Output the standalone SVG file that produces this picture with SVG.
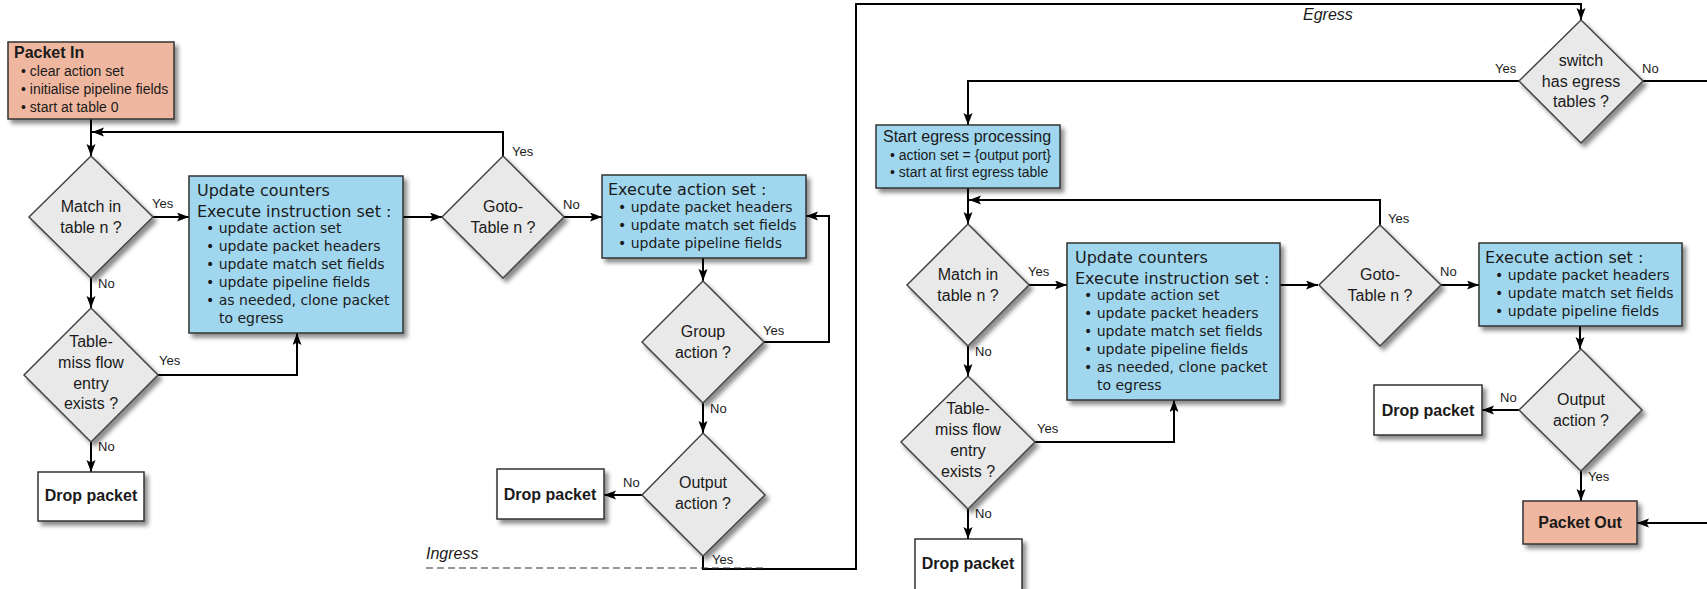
<svg xmlns="http://www.w3.org/2000/svg" width="1707" height="589" viewBox="0 0 1707 589">
  <defs>
    <filter id="shadow" x="-10%" y="-10%" width="130%" height="130%">
      <feDropShadow dx="3.5" dy="4" stdDeviation="2" flood-color="#000" flood-opacity="0.45"/>
    </filter>
    <marker id="arrow" markerUnits="userSpaceOnUse" markerWidth="13" markerHeight="10" refX="12" refY="4.5" orient="auto">
      <path d="M0,0 L12,4.5 L0,9 L2.5,4.5 z" fill="#000"/>
    </marker>
    <style>
      .box { stroke: #333; stroke-width: 1.5; filter: url(#shadow); }
      .salmon { fill: #f0b7a0; }
      .blue { fill: #a0d7ef; }
      .white { fill: #fff; }
      .dia { fill: #e9e9e9; stroke: #444; stroke-width: 1.5; filter: url(#shadow); }
      .edge { fill: none; stroke: #000; stroke-width: 2; }
      .arr { marker-end: url(#arrow); }
      .dash { fill: none; stroke: #333; stroke-width: 1.2; stroke-dasharray: 7 4; }
      text { fill: #1a1a1a; }
      .sans { font-family: "Liberation Sans", Arial, sans-serif; }
      .dv { font-family: "DejaVu Sans", sans-serif; }
      .title { font-family: "Liberation Sans", Arial, sans-serif; font-size: 16px; font-weight: bold; }
      .small { font-family: "Liberation Sans", Arial, sans-serif; font-size: 14px; }
      .q { font-family: "Liberation Sans", Arial, sans-serif; font-size: 16px; text-anchor: middle; }
      .h { font-family: "DejaVu Sans", sans-serif; font-size: 16px; }
      .li { font-family: "DejaVu Sans", sans-serif; font-size: 14px; }
      .lbl { font-family: "Liberation Sans", Arial, sans-serif; font-size: 13px; }
      .stage { font-family: "Liberation Sans", Arial, sans-serif; font-size: 16px; font-style: italic; }
      .mid { text-anchor: middle; }
    </style>
  </defs>

  <!-- connectors -->
  <g id="connectors">
    <!-- ingress pipeline -->
    <path class="edge arr" d="M91,119 V156"/>
    <path class="edge arr" d="M152,217 H189"/>
    <path class="edge arr" d="M91,277 V308"/>
    <path class="edge arr" d="M158,375 H297 V333"/>
    <path class="edge arr" d="M91,442 V472"/>
    <path class="edge arr" d="M403,217 H442"/>
    <path class="edge arr" d="M503,156 V132 H92"/>
    <path class="edge arr" d="M564,217 H602"/>
    <path class="edge arr" d="M703,258 V281"/>
    <path class="edge arr" d="M764,342 H829 V216 H806"/>
    <path class="edge arr" d="M703,403 V433"/>
    <path class="edge arr" d="M642,495 H604"/>
    <!-- hand-off from ingress to egress -->
    <path class="edge arr" d="M703,556 V569 H856 V4 H1581 V20"/>
    <path class="dash" d="M426,568 H763"/>
    <!-- egress pipeline -->
    <path class="edge arr" d="M1519,81 H968 V125"/>
    <path class="edge" d="M1643,81 H1710"/>
    <path class="edge arr" d="M968,188 V224"/>
    <path class="edge arr" d="M1029,285 H1067"/>
    <path class="edge arr" d="M968,346 V376"/>
    <path class="edge arr" d="M1035,442 H1174 V400"/>
    <path class="edge arr" d="M968,509 V539"/>
    <path class="edge arr" d="M1280,285 H1318"/>
    <path class="edge arr" d="M1380,225 V200 H969"/>
    <path class="edge arr" d="M1441,285 H1479"/>
    <path class="edge arr" d="M1580,326 V349"/>
    <path class="edge arr" d="M1519,410 H1482"/>
    <path class="edge arr" d="M1581,471 V501"/>
    <path class="edge arr" d="M1710,523 H1637"/>

    <!-- branch labels -->
    <text class="lbl" x="152" y="208">Yes</text>
    <text class="lbl" x="98" y="288">No</text>
    <text class="lbl" x="159" y="365">Yes</text>
    <text class="lbl" x="98" y="451">No</text>
    <text class="lbl" x="512" y="156">Yes</text>
    <text class="lbl" x="563" y="209">No</text>
    <text class="lbl" x="763" y="335">Yes</text>
    <text class="lbl" x="710" y="413">No</text>
    <text class="lbl" x="623" y="487">No</text>
    <text class="lbl" x="712" y="564">Yes</text>
    <text class="lbl" x="1495" y="73">Yes</text>
    <text class="lbl" x="1642" y="73">No</text>
    <text class="lbl" x="1028" y="276">Yes</text>
    <text class="lbl" x="975" y="356">No</text>
    <text class="lbl" x="1037" y="433">Yes</text>
    <text class="lbl" x="975" y="518">No</text>
    <text class="lbl" x="1388" y="223">Yes</text>
    <text class="lbl" x="1440" y="276">No</text>
    <text class="lbl" x="1500" y="402">No</text>
    <text class="lbl" x="1588" y="481">Yes</text>

    <!-- stage names -->
    <text class="stage" x="426" y="559">Ingress</text>
    <text class="stage" x="1303" y="20">Egress</text>
  </g>

  <!-- ingress nodes -->
  <g id="packet-in">
    <rect class="box salmon" x="8" y="42" width="166" height="77"/>
    <text class="title" x="14" y="58">Packet In</text>
    <text class="small" x="21" y="76">• clear action set</text>
    <text class="small" x="21" y="94">• initialise pipeline fields</text>
    <text class="small" x="21" y="112">• start at table 0</text>
  </g>

  <g id="match-in">
    <polygon class="dia" points="91,156 153,217 91,278 29,217"/>
    <text class="q" x="91" y="212">Match in</text>
    <text class="q" x="91" y="233">table n ?</text>
  </g>

  <g id="table-miss-in">
    <polygon class="dia" points="91,308 158,375 91,442 24,375"/>
    <text class="q" x="91" y="347">Table-</text>
    <text class="q" x="91" y="368">miss flow</text>
    <text class="q" x="91" y="389">entry</text>
    <text class="q" x="91" y="409">exists ?</text>
  </g>

  <g id="drop-in-1">
    <rect class="box white" x="38" y="472" width="106" height="49"/>
    <text class="title mid" x="91" y="501">Drop packet</text>
  </g>

  <g id="instructions-in">
    <rect class="box blue" x="189" y="176" width="214" height="157"/>
    <text class="h" x="197" y="195.5">Update counters</text>
    <text class="h" x="197" y="216.5">Execute instruction set :</text>
    <text class="li" x="206" y="232.5">• update action set</text>
    <text class="li" x="206" y="250.5">• update packet headers</text>
    <text class="li" x="206" y="268.5">• update match set fields</text>
    <text class="li" x="206" y="286.5">• update pipeline fields</text>
    <text class="li" x="206" y="304.5">• as needed, clone packet</text>
    <text class="li" x="219" y="322.5">to egress</text>
  </g>

  <g id="goto-in">
    <polygon class="dia" points="503,156 564,217 503,278 442,217"/>
    <text class="q" x="503" y="212">Goto-</text>
    <text class="q" x="503" y="233">Table n ?</text>
  </g>

  <g id="action-set-in">
    <rect class="box blue" x="602" y="175" width="204" height="83"/>
    <text class="h" x="608" y="195">Execute action set :</text>
    <text class="li" x="618" y="212">• update packet headers</text>
    <text class="li" x="618" y="230">• update match set fields</text>
    <text class="li" x="618" y="248">• update pipeline fields</text>
  </g>

  <g id="group-in">
    <polygon class="dia" points="703,281 764,342 703,403 642,342"/>
    <text class="q" x="703" y="337">Group</text>
    <text class="q" x="703" y="358">action ?</text>
  </g>

  <g id="output-in">
    <polygon class="dia" points="703,433 765,495 703,556 642,495"/>
    <text class="q" x="703" y="488">Output</text>
    <text class="q" x="703" y="509">action ?</text>
  </g>

  <g id="drop-in-2">
    <rect class="box white" x="497" y="469" width="107" height="50"/>
    <text class="title mid" x="550" y="500">Drop packet</text>
  </g>

  <!-- egress nodes -->
  <g id="egress-check">
    <polygon class="dia" points="1581,20 1643,81 1581,143 1519,81"/>
    <text class="q" x="1581" y="66">switch</text>
    <text class="q" x="1581" y="87">has egress</text>
    <text class="q" x="1581" y="107">tables ?</text>
  </g>

  <g id="start-egress">
    <rect class="box blue" x="876" y="125" width="184" height="63"/>
    <text class="sans" x="883" y="142" font-size="16">Start egress processing</text>
    <text class="small" x="890" y="160">• action set = {output port}</text>
    <text class="small" x="890" y="177">• start at first egress table</text>
  </g>

  <g id="match-eg">
    <polygon class="dia" points="968,224 1029,285 968,346 907,285"/>
    <text class="q" x="968" y="280">Match in</text>
    <text class="q" x="968" y="301">table n ?</text>
  </g>

  <g id="table-miss-eg">
    <polygon class="dia" points="968,376 1035,442 968,509 901,442"/>
    <text class="q" x="968" y="414">Table-</text>
    <text class="q" x="968" y="435">miss flow</text>
    <text class="q" x="968" y="456">entry</text>
    <text class="q" x="968" y="477">exists ?</text>
  </g>

  <g id="drop-eg-1">
    <rect class="box white" x="915" y="539" width="107" height="54"/>
    <text class="title mid" x="968" y="569">Drop packet</text>
  </g>

  <g id="instructions-eg">
    <rect class="box blue" x="1067" y="243" width="213" height="157"/>
    <text class="h" x="1075" y="262.5">Update counters</text>
    <text class="h" x="1075" y="283.5">Execute instruction set :</text>
    <text class="li" x="1084" y="299.5">• update action set</text>
    <text class="li" x="1084" y="317.5">• update packet headers</text>
    <text class="li" x="1084" y="335.5">• update match set fields</text>
    <text class="li" x="1084" y="353.5">• update pipeline fields</text>
    <text class="li" x="1084" y="371.5">• as needed, clone packet</text>
    <text class="li" x="1097" y="389.5">to egress</text>
  </g>

  <g id="goto-eg">
    <polygon class="dia" points="1380,225 1441,285 1380,346 1319,285"/>
    <text class="q" x="1380" y="280">Goto-</text>
    <text class="q" x="1380" y="301">Table n ?</text>
  </g>

  <g id="action-set-eg">
    <rect class="box blue" x="1479" y="243" width="203" height="83"/>
    <text class="h" x="1485" y="262.5">Execute action set :</text>
    <text class="li" x="1495" y="280">• update packet headers</text>
    <text class="li" x="1495" y="298">• update match set fields</text>
    <text class="li" x="1495" y="315.5">• update pipeline fields</text>
  </g>

  <g id="output-eg">
    <polygon class="dia" points="1581,349 1642,410 1581,471 1519,410"/>
    <text class="q" x="1581" y="405">Output</text>
    <text class="q" x="1581" y="426">action ?</text>
  </g>

  <g id="drop-eg-2">
    <rect class="box white" x="1374" y="385" width="108" height="50"/>
    <text class="title mid" x="1428" y="416">Drop packet</text>
  </g>

  <g id="packet-out">
    <rect class="box salmon" x="1523" y="501" width="114" height="43"/>
    <text class="title mid" x="1580" y="528">Packet Out</text>
  </g>
</svg>
